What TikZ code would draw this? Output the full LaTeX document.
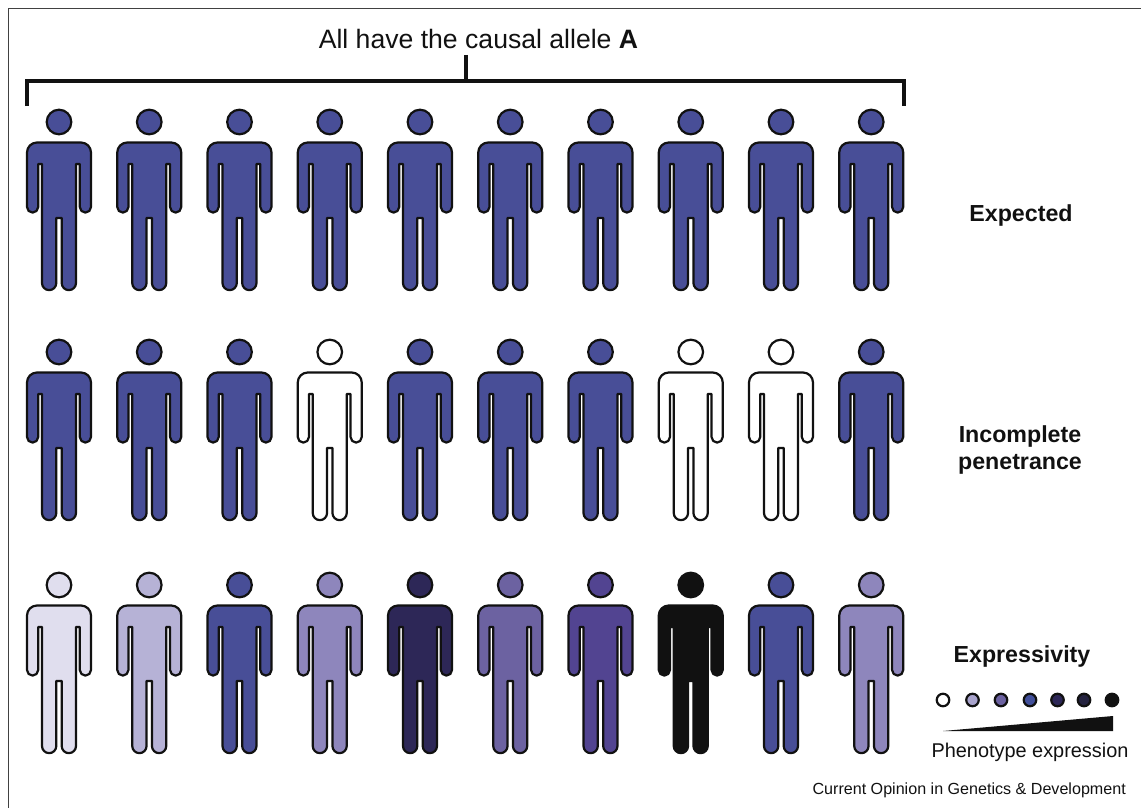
\documentclass[tikz,border=0pt]{standalone}
\usepackage{fontspec}
\setmainfont{Liberation Sans}
\usetikzlibrary{positioning}

\definecolor{base}{HTML}{484E97}
\definecolor{palest}{HTML}{E0DEEE}
\definecolor{pale}{HTML}{B6B2D6}
\definecolor{soft}{HTML}{8E86BC}
\definecolor{mid}{HTML}{6C62A1}
\definecolor{deep}{HTML}{524491}
\definecolor{dark}{HTML}{2D2757}
\definecolor{ink}{HTML}{111111}
\definecolor{lgpale}{HTML}{A9A4CD}
\definecolor{lgblue}{HTML}{42509B}
\definecolor{lgnight}{HTML}{24223F}

\tikzset{
    person/.pic={
        \draw[pic actions] (0,0) circle (12.3);
        \draw[pic actions]
            (-22,20.5) -- (22,20.5) arc[start angle=-90, end angle=0, radius=10]
            -- (32,85) arc[start angle=0, end angle=180, radius=5.6]
            -- (20.8,42) -- (17,42) -- (17,161)
            arc[start angle=0, end angle=180, radius=7.15]
            -- (2.7,96) -- (-2.7,96) -- (-2.7,161)
            arc[start angle=0, end angle=180, radius=7.15]
            -- (-17,42) -- (-20.8,42) -- (-20.8,85)
            arc[start angle=0, end angle=180, radius=5.6]
            -- (-32,30.5) arc[start angle=180, end angle=270, radius=10] -- cycle;
    }
}

\begin{document}
\begin{tikzpicture}[
    x=1pt, y=-1pt,
    figure/.style={draw=ink, line width=2.2pt, line join=round},
    bracket/.style={draw=ink, line width=4.2pt},
    dot/.style={circle, draw=ink, line width=2.2pt, minimum size=12.5pt, inner sep=0pt},
    rowlabel/.style={font=\bfseries\fontsize{23.2}{27}\selectfont, align=center, text=ink}
]
    \useasboundingbox (0,0) rectangle (1141,808);

    % Frame
    \draw[draw=ink!80, line width=1pt] (8.5,808) -- (8.5,8.5) -- (1141,8.5);

    % Bracket
    \node[font=\fontsize{26.6}{30}\selectfont, text=ink] (title) at (478.5,39) {All have the causal allele \textbf{A}};
    \coordinate (stemtop) at (466,55);
    \coordinate (stemfoot) at (466,81);
    \coordinate (bracketl) at (27,106);
    \coordinate (bracketr) at (904,106);
    \draw[bracket] (stemtop) -- (stemfoot);
    \draw[bracket, line join=miter] (bracketl) |- (stemfoot) -| (bracketr);

    % People
    \foreach \col [count=\i from 0] in {base,base,base,base,base,base,base,base,base,base}
        \pic[figure, fill=\col] at ({59+90.25*\i},122) {person};
    \foreach \col [count=\i from 0] in {base,base,base,white,base,base,base,white,white,base}
        \pic[figure, fill=\col] at ({59+90.25*\i},352) {person};
    \foreach \col [count=\i from 0] in {palest,pale,base,soft,dark,mid,deep,ink,base,soft}
        \pic[figure, fill=\col] at ({59+90.25*\i},585) {person};

    % Labels
    \node[rowlabel] (expected) at (1021,216) {Expected};
    \node[rowlabel] (incomplete) at (1020,450) {Incomplete\\penetrance};
    \node[rowlabel] (expressivity) at (1022,656) {Expressivity};

    % Legend
    \foreach \col/\lx in {white/943,lgpale/972.5,mid/1001,lgblue/1030,dark/1057.5,lgnight/1084,ink/1112}
        \node[dot, fill=\col] (dot\lx) at (\lx,700) {};
    \fill[ink] (943,731) -- (1113,716) -- (1113,731) -- cycle;
    \node[font=\fontsize{19.9}{24}\selectfont, text=ink] (phenotype) at (1030,752) {Phenotype expression};
    \node[font=\fontsize{16.1}{19}\selectfont, text=ink, anchor=east, inner sep=0pt] (journal) at (1126,790) {Current Opinion in Genetics \& Development};
\end{tikzpicture}
\end{document}
